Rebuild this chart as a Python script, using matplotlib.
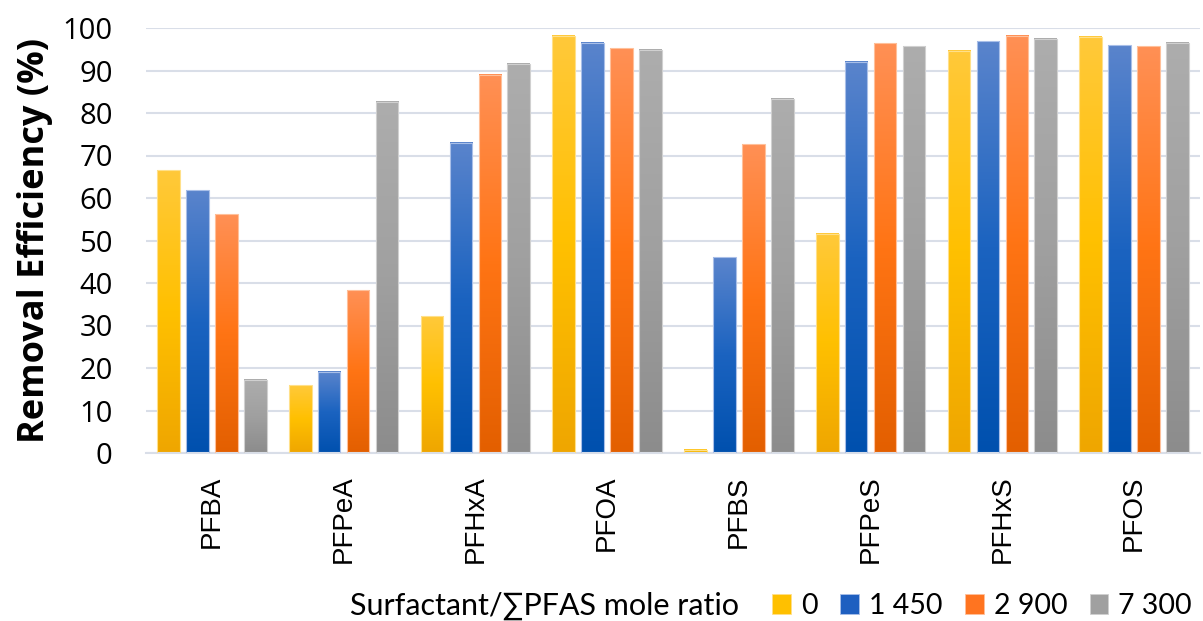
import numpy as np
import matplotlib
matplotlib.use("Agg")
import matplotlib.pyplot as plt
from matplotlib.colors import LinearSegmentedColormap
from matplotlib.patches import Patch

categories = ["PFBA", "PFPeA", "PFHxA", "PFOA", "PFBS", "PFPeS", "PFHxS", "PFOS"]
series_labels = ["0", "1 450", "2 900", "7 300"]
ratio_0 = [66.5, 15.9, 32.2, 98.2, 0.8, 51.6, 94.6, 97.9]
ratio_1450 = [61.8, 19.1, 73.0, 96.5, 46.1, 92.1, 96.9, 96.0]
ratio_2900 = [56.2, 38.3, 89.0, 95.2, 72.7, 96.4, 98.2, 95.7]
ratio_7300 = [17.2, 82.7, 91.6, 94.9, 83.3, 95.7, 97.5, 96.5]
yticks = [0, 10, 20, 30, 40, 50, 60, 70, 80, 90, 100]

series = [ratio_0, ratio_1450, ratio_2900, ratio_7300]
# (top, middle, bottom) gradient colours
grads = [
    ("#FFC93A", "#FFC000", "#EFA600"),
    ("#5A84CC", "#1B63C0", "#0050AE"),
    ("#FF9055", "#FF7414", "#E35F00"),
    ("#ADADAD", "#A0A0A0", "#8C8C8C"),
]
solid = ["#FFC000", "#1E5FC0", "#FF7420", "#A0A0A0"]
edges = ["#FFE08A", "#A9BFE8", "#FFC09A", "#D0D0D0"]

fig = plt.figure(figsize=(12.03, 6.21), dpi=100)
ax = fig.add_axes([146 / 1203, 1 - 453 / 621, (1200 - 146) / 1203, (453 - 28) / 621])

x = np.arange(len(categories))
pitch = 0.2196
width = 0.172
grad_img = np.linspace(1, 0, 256).reshape(-1, 1)

for i, vals in enumerate(series):
    cmap = LinearSegmentedColormap.from_list(f"g{i}", [grads[i][2], grads[i][1], grads[i][0]])
    bars = ax.bar(x + (i - 1.5) * pitch, vals, width, facecolor="none",
                  edgecolor=edges[i], linewidth=0.8, zorder=3)
    for b in bars:
        x0 = b.get_x()
        h = b.get_height()
        ax.imshow(grad_img, cmap=cmap, extent=(x0, x0 + b.get_width(), 0, h),
                  aspect="auto", zorder=2, interpolation="bicubic")

ax.set_xlim(-0.5, len(categories) - 0.5)
ax.set_ylim(0, 100)
ax.set_yticks(yticks)
ax.yaxis.grid(True, color="#D9DEE8", linewidth=1.5, zorder=0)
ax.set_axisbelow(True)
for s in ["top", "right", "left"]:
    ax.spines[s].set_visible(False)
ax.spines["bottom"].set_color("#D9DEE8")
ax.spines["bottom"].set_linewidth(1.5)
ax.tick_params(axis="both", length=0)
ax.tick_params(axis="y", pad=24)
ax.tick_params(axis="x", pad=16)
ax.set_yticklabels([str(v) for v in yticks], fontsize=21, family="Open Sans")
ax.set_xticks(x)
ax.set_xticklabels(categories, rotation=90, fontsize=20, family="Liberation Sans")

ax.set_ylabel("Removal Efficiency (%)", fontsize=26, fontweight="bold",
              family="Open Sans")
ax.yaxis.set_label_coords(-0.088, 0.5)

legend_font = ["Lato", "DejaVu Sans"]
fig.text(350 / 1203, 1 - 606 / 621, "Surfactant/∑PFAS mole ratio",
         fontsize=22, family=legend_font, va="center", ha="left")
handles = [Patch(facecolor=solid[i], edgecolor=edges[i], linewidth=0.6) for i in range(4)]
leg = fig.legend(handles, series_labels, loc="center right",
                 bbox_to_anchor=(1192 / 1203, 1 - 606 / 621), ncol=4, frameon=False,
                 handlelength=0.65, handleheight=0.65, handletextpad=0.35, columnspacing=0.8,
                 borderpad=0, borderaxespad=0,
                 prop={"family": legend_font, "size": 20.5})

fig.savefig("out.png", dpi=100)
